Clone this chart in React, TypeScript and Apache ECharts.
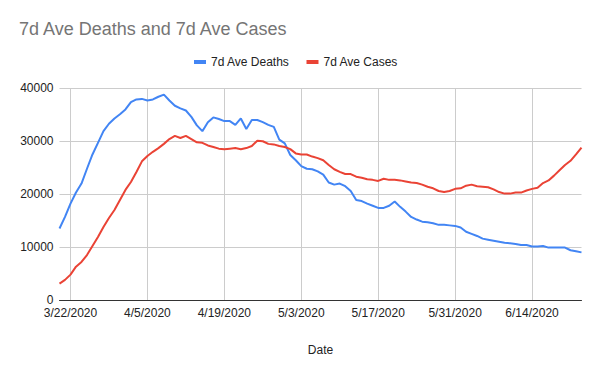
import React, { useEffect, useRef } from "react";
import * as echarts from "echarts";

const dates: string[] = [
  "3/20/2020", "3/21/2020", "3/22/2020", "3/23/2020", "3/24/2020", "3/25/2020", "3/26/2020", "3/27/2020",
  "3/28/2020", "3/29/2020", "3/30/2020", "3/31/2020", "4/1/2020", "4/2/2020", "4/3/2020", "4/4/2020",
  "4/5/2020", "4/6/2020", "4/7/2020", "4/8/2020", "4/9/2020", "4/10/2020", "4/11/2020", "4/12/2020",
  "4/13/2020", "4/14/2020", "4/15/2020", "4/16/2020", "4/17/2020", "4/18/2020", "4/19/2020", "4/20/2020",
  "4/21/2020", "4/22/2020", "4/23/2020", "4/24/2020", "4/25/2020", "4/26/2020", "4/27/2020", "4/28/2020",
  "4/29/2020", "4/30/2020", "5/1/2020", "5/2/2020", "5/3/2020", "5/4/2020", "5/5/2020", "5/6/2020",
  "5/7/2020", "5/8/2020", "5/9/2020", "5/10/2020", "5/11/2020", "5/12/2020", "5/13/2020", "5/14/2020",
  "5/15/2020", "5/16/2020", "5/17/2020", "5/18/2020", "5/19/2020", "5/20/2020", "5/21/2020", "5/22/2020",
  "5/23/2020", "5/24/2020", "5/25/2020", "5/26/2020", "5/27/2020", "5/28/2020", "5/29/2020", "5/30/2020",
  "5/31/2020", "6/1/2020", "6/2/2020", "6/3/2020", "6/4/2020", "6/5/2020", "6/6/2020", "6/7/2020",
  "6/8/2020", "6/9/2020", "6/10/2020", "6/11/2020", "6/12/2020", "6/13/2020", "6/14/2020", "6/15/2020",
  "6/16/2020", "6/17/2020", "6/18/2020", "6/19/2020", "6/20/2020", "6/21/2020", "6/22/2020", "6/23/2020",
];

const labeledDates: string[] = ["3/22/2020", "4/5/2020", "4/19/2020", "5/3/2020", "5/17/2020", "5/31/2020", "6/14/2020"];

const deaths7d: number[] = [
  13500, 15700, 18200, 20300, 22000, 24800, 27500, 29700, 31900, 33300,
  34300, 35100, 36000, 37400, 37900, 38000, 37700, 37900, 38400, 38800,
  37700, 36700, 36200, 35800, 34600, 33000, 31900, 33600, 34500, 34200,
  33800, 33800, 33100, 34300, 32300, 34000, 34000, 33600, 33100, 32700,
  30300, 29600, 27400, 26400, 25300, 24800, 24700, 24300, 23700, 22200,
  21800, 22000, 21500, 20600, 18900, 18700, 18200, 17800, 17400, 17400,
  17800, 18600, 17600, 16700, 15700, 15200, 14800, 14700, 14500, 14200,
  14200, 14100, 14000, 13700, 12900, 12500, 12100, 11600, 11400, 11200,
  11000, 10800, 10700, 10600, 10400, 10400, 10100, 10100, 10200, 9900,
  9900, 9900, 9900, 9400, 9200, 9000,
];

const cases7d: number[] = [
  3100, 3800, 4800, 6300, 7200, 8500, 10200, 11900, 13800, 15500,
  17000, 18900, 20800, 22300, 24200, 26200, 27200, 28000, 28700, 29500,
  30400, 31000, 30600, 31000, 30400, 29800, 29700, 29200, 28900, 28600,
  28500, 28600, 28700, 28500, 28700, 29100, 30100, 30000, 29500, 29400,
  29100, 28900, 28500, 27700, 27500, 27500, 27100, 26800, 26400, 25500,
  24700, 24200, 23800, 23800, 23300, 23100, 22800, 22700, 22500, 22900,
  22700, 22700, 22600, 22400, 22200, 22100, 21800, 21400, 21100, 20600,
  20400, 20600, 21000, 21100, 21600, 21800, 21500, 21400, 21300, 20900,
  20400, 20100, 20100, 20300, 20300, 20700, 21000, 21200, 22100, 22600,
  23500, 24500, 25500, 26300, 27500, 28800,
];

const FONT = "'Liberation Sans', Arial, sans-serif";

export default function App() {
  const ref = useRef<HTMLDivElement>(null);

  useEffect(() => {
    if (!ref.current) return;
    const chart = echarts.init(ref.current, undefined, { renderer: "svg" });
    const showAt = (idx: number) => labeledDates.indexOf(dates[idx]) >= 0;
    chart.setOption({
      animation: false,
      backgroundColor: "#ffffff",
      textStyle: { fontFamily: FONT },
      title: {
        text: "7d Ave Deaths and 7d Ave Cases",
        left: 19,
        top: 20,
        padding: [0, 0, 0, 0],
        textStyle: { fontFamily: FONT, fontSize: 18, fontWeight: "normal", color: "#757575" },
      },
      legend: {
        top: 56,
        left: 194,
        icon: "rect",
        itemWidth: 12,
        itemHeight: 4,
        itemGap: 17,
        padding: 0,
        textStyle: { fontFamily: FONT, fontSize: 12, color: "#222222" },
        data: ["7d Ave Deaths", "7d Ave Cases"],
      },
      grid: { left: 59.5, right: 18.5, top: 88.3, bottom: 71, containLabel: false },
      xAxis: {
        type: "category",
        data: dates,
        boundaryGap: false,
        name: "Date",
        nameLocation: "middle",
        nameGap: 44,
        nameTextStyle: { fontFamily: FONT, fontSize: 12, color: "#222222" },
        axisLine: { show: true, lineStyle: { color: "#333333", width: 1 } },
        axisTick: { show: false },
        axisLabel: {
          interval: (idx: number) => showAt(idx),
          margin: 7,
          lineHeight: 12,
          fontFamily: FONT,
          fontSize: 12,
          color: "#222222",
        },
        splitLine: {
          show: true,
          interval: (idx: number) => showAt(idx),
          lineStyle: { color: "#cccccc", width: 1 },
        },
      },
      yAxis: {
        type: "value",
        min: 0,
        max: 40000,
        interval: 10000,
        axisLine: { show: false },
        axisTick: { show: false },
        axisLabel: {
          formatter: (v: number) => String(v),
          margin: 6,
          lineHeight: 12,
          fontFamily: FONT,
          fontSize: 12,
          color: "#222222",
        },
        splitLine: { show: true, lineStyle: { color: "#cccccc", width: 1 } },
      },
      series: [
        {
          name: "7d Ave Deaths",
          type: "line",
          data: deaths7d,
          showSymbol: false,
          symbol: "none",
          lineStyle: { color: "#4285F4", width: 2 },
          itemStyle: { color: "#4285F4" },
        },
        {
          name: "7d Ave Cases",
          type: "line",
          data: cases7d,
          showSymbol: false,
          symbol: "none",
          lineStyle: { color: "#EA4335", width: 2 },
          itemStyle: { color: "#EA4335" },
        },
      ],
    });
    return () => chart.dispose();
  }, []);

  return (
    <div
      ref={ref}
      style={{ position: "absolute", left: 0, top: 0, width: 600, height: 371, background: "#fff" }}
    />
  );
}
